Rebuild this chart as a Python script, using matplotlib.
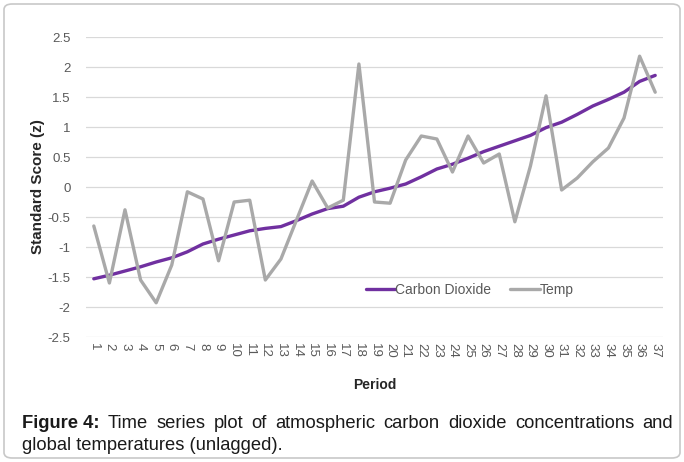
import matplotlib
matplotlib.use("Agg")
import matplotlib.pyplot as plt
from matplotlib.patches import FancyBboxPatch

periods = [str(i) for i in range(1, 38)]

co2 = [-1.53, -1.47, -1.40, -1.33, -1.25, -1.18, -1.08, -0.95, -0.87, -0.80,
       -0.73, -0.69, -0.66, -0.56, -0.45, -0.36, -0.32, -0.17, -0.08, -0.02,
       0.05, 0.17, 0.30, 0.38, 0.48, 0.59, 0.68, 0.77, 0.86, 0.99,
       1.08, 1.21, 1.35, 1.46, 1.58, 1.76, 1.86]

temp = [-0.65, -1.60, -0.38, -1.55, -1.93, -1.30, -0.08, -0.20, -1.23, -0.25,
        -0.22, -1.55, -1.20, -0.55, 0.10, -0.35, -0.22, 2.05, -0.25, -0.27,
        0.45, 0.85, 0.80, 0.25, 0.85, 0.40, 0.55, -0.58, 0.35, 1.52,
        -0.05, 0.15, 0.42, 0.65, 1.15, 2.18, 1.58]

yticks = [-2.5, -2, -1.5, -1, -0.5, 0, 0.5, 1, 1.5, 2, 2.5]

caption_bold = "Figure 4:"
caption_line1 = "Time series plot of atmospheric carbon dioxide concentrations and"
caption_line2 = "global temperatures (unlagged)."

plt.rcParams["font.family"] = ["Liberation Sans", "DejaVu Sans"]

W, H = 684, 462
fig = plt.figure(figsize=(W / 100, H / 100), dpi=100)

# rounded frame around the whole figure
frame = FancyBboxPatch((4 / W, 4 / H), 676 / W, 454 / H,
                       boxstyle="round,pad=0,rounding_size=0.012",
                       transform=fig.transFigure, fill=False,
                       edgecolor="#c8c8c8", linewidth=1.2)
fig.patches.append(frame)

ax = fig.add_axes([86 / W, 1 - 337 / H, 577 / W, 300 / H])
x = list(range(len(periods)))
ax.plot(x, co2, color="#7030a0", lw=2.4, label="Carbon Dioxide", solid_capstyle="round")
ax.plot(x, temp, color="#a9a9a9", lw=2.4, label="Temp", solid_capstyle="round")

ax.set_xlim(-0.5, len(periods) - 0.5)
ax.set_ylim(-2.5, 2.5)
ax.set_yticks(yticks)
ax.set_yticklabels([f"{v:g}" for v in yticks])
ax.set_xticks(x)
ax.set_xticklabels(periods, rotation=-90)
ax.grid(axis="y", color="#d9d9d9", lw=0.9)
ax.set_axisbelow(True)
for s in ax.spines.values():
    s.set_visible(False)
ax.tick_params(length=0, colors="#595959", labelsize=9.5)
ax.tick_params(axis="x", pad=4)
ax.tick_params(axis="y", pad=11)

ax.set_xlabel("Period", fontweight="bold", fontsize=10, color="#262626", labelpad=15)
ax.set_ylabel("Standard Score (z)", fontweight="bold", fontsize=11, color="#262626", labelpad=2)

leg = ax.legend(loc="center", bbox_to_anchor=(0.665, 0.157), ncol=2, frameon=False,
                fontsize=10, handlelength=2.1, handletextpad=0.0, columnspacing=1.4)
for t in leg.get_texts():
    t.set_color("#595959")

# caption, first line justified between the frame margins
fig.canvas.draw()
r = fig.canvas.get_renderer()
fs = 13.2
left, right = 22, 673
y1, y2 = 1 - 428 / H, 1 - 450 / H
words = [(caption_bold, "bold")] + [(w, "normal") for w in caption_line1.split()]
texts = []
total = 0
for w, weight in words:
    t = fig.text(0, y1, w, fontweight=weight, fontsize=fs, color="#1a1a1a")
    total += t.get_window_extent(r).width
    texts.append(t)
gap = (right - left - total) / (len(texts) - 1)
pos = left
for t in texts:
    t.set_x(pos / W)
    pos += t.get_window_extent(r).width + gap
fig.text(left / W, y2, caption_line2, fontsize=fs, color="#1a1a1a")

fig.savefig("out.png", dpi=100)
